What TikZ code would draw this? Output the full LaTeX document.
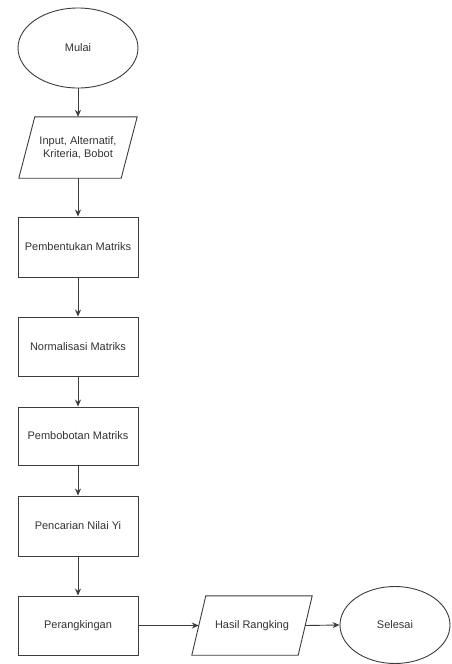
\documentclass[tikz,border=0pt]{standalone}
\usepackage{fontspec}
\setmainfont{Liberation Sans}
\usetikzlibrary{shapes.geometric,arrows.meta,calc}
\definecolor{linegray}{HTML}{3C3C3C}
\definecolor{textgray}{HTML}{333333}
\begin{document}
\begin{tikzpicture}[x=1pt,y=-1pt,
  every node/.style={font=\fontsize{11}{13}\selectfont, text=textgray, align=center, inner sep=0pt},
  oval/.style={ellipse, draw=linegray, line width=0.9pt},
  procbox/.style={rectangle, draw=linegray, line width=0.9pt, minimum width=120pt},
  iobox/.style={rectangle, minimum width=118pt},
  shapeline/.style={draw=linegray, line width=0.9pt},
  flow/.style={draw=linegray, line width=0.9pt, -{Stealth[length=7pt,width=6pt]}}
]
\useasboundingbox (0,0) rectangle (451,664);
\fill[white] (0,0) rectangle (451,664);

\node[oval, minimum width=120pt, minimum height=80pt] (mulai) at (78,48) {Mulai};
\node[iobox, minimum height=61pt] (input) at (78,147.5) {Input, Alternatif,\\Kriteria, Bobot};
\draw[shapeline] ($(input.north west)+(16,0)$) -- (input.north east) -- ($(input.south east)-(16,0)$) -- (input.south west) -- cycle;
\node[procbox, minimum height=60pt] (b1) at (78,247) {Pembentukan Matriks};
\node[procbox, minimum height=59pt] (b2) at (78,346.5) {Normalisasi Matriks};
\node[procbox, minimum height=58pt] (b3) at (78,436) {Pembobotan Matriks};
\node[procbox, minimum height=60pt] (b4) at (78,526) {Pencarian Nilai Yi};
\node[procbox, minimum height=59pt] (b5) at (78,625.5) {Perangkingan};
\node[iobox, minimum width=120pt, minimum height=59pt] (hasil) at (252,625.5) {Hasil Rangking};
\draw[shapeline] ($(hasil.north west)+(14,0)$) -- (hasil.north east) -- ($(hasil.south east)-(14,0)$) -- (hasil.south west) -- cycle;
\node[oval, minimum width=110pt, minimum height=77pt] (selesai) at (395,625) {Selesai};

\coordinate (hasilin) at ($(hasil.west)+(7,0)$);
\coordinate (hasilout) at ($(hasil.east)-(7,0)$);

\draw[flow] (mulai.south) -- (input.north);
\draw[flow] (input.south) -- (b1.north);
\draw[flow] (b1.south) -- (b2.north);
\draw[flow] (b2.south) -- (b3.north);
\draw[flow] (b3.south) -- (b4.north);
\draw[flow] (b4.south) -- (b5.north);
\draw[flow] (b5.east) -- (hasilin);
\draw[flow] (hasilout) -- (selesai.west);
\end{tikzpicture}
\end{document}
